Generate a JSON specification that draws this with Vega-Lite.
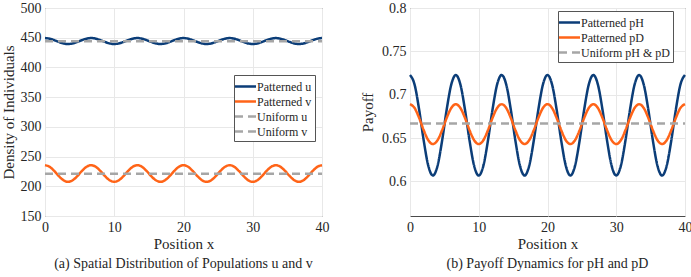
{
  "$schema": "https://vega.github.io/schema/vega-lite/v6.json",
  "padding": {"left": 0, "top": 0, "right": 2, "bottom": 0},
  "spacing": 30,
  "datasets": {
    "pattern": [
      {"x": 0, "Patterned u": 449.4, "Patterned v": 235.5, "Uniform u": 444.2, "Uniform v": 221.2, "Patterned pH": 0.7227, "Patterned pD": 0.689},
      {"x": 0.667, "Patterned u": 448.4, "Patterned v": 232.8, "Uniform u": 444.2, "Uniform v": 221.2, "Patterned pH": 0.7116, "Patterned pD": 0.6846},
      {"x": 1.333, "Patterned u": 445.9, "Patterned v": 225.8, "Uniform u": 444.2, "Uniform v": 221.2, "Patterned pH": 0.6826, "Patterned pD": 0.6731},
      {"x": 2, "Patterned u": 442.9, "Patterned v": 217.2, "Uniform u": 444.2, "Uniform v": 221.2, "Patterned pH": 0.6468, "Patterned pD": 0.6589},
      {"x": 2.667, "Patterned u": 440.4, "Patterned v": 210.2, "Uniform u": 444.2, "Uniform v": 221.2, "Patterned pH": 0.6178, "Patterned pD": 0.6474},
      {"x": 3.333, "Patterned u": 439.4, "Patterned v": 207.5, "Uniform u": 444.2, "Uniform v": 221.2, "Patterned pH": 0.6067, "Patterned pD": 0.643},
      {"x": 4, "Patterned u": 440.4, "Patterned v": 210.2, "Uniform u": 444.2, "Uniform v": 221.2, "Patterned pH": 0.6178, "Patterned pD": 0.6474},
      {"x": 4.667, "Patterned u": 442.9, "Patterned v": 217.2, "Uniform u": 444.2, "Uniform v": 221.2, "Patterned pH": 0.6468, "Patterned pD": 0.6589},
      {"x": 5.333, "Patterned u": 445.9, "Patterned v": 225.8, "Uniform u": 444.2, "Uniform v": 221.2, "Patterned pH": 0.6826, "Patterned pD": 0.6731},
      {"x": 6, "Patterned u": 448.4, "Patterned v": 232.8, "Uniform u": 444.2, "Uniform v": 221.2, "Patterned pH": 0.7116, "Patterned pD": 0.6846},
      {"x": 6.667, "Patterned u": 449.4, "Patterned v": 235.5, "Uniform u": 444.2, "Uniform v": 221.2, "Patterned pH": 0.7227, "Patterned pD": 0.689},
      {"x": 7.333, "Patterned u": 448.4, "Patterned v": 232.8, "Uniform u": 444.2, "Uniform v": 221.2, "Patterned pH": 0.7116, "Patterned pD": 0.6846},
      {"x": 8, "Patterned u": 445.9, "Patterned v": 225.8, "Uniform u": 444.2, "Uniform v": 221.2, "Patterned pH": 0.6826, "Patterned pD": 0.6731},
      {"x": 8.667, "Patterned u": 442.9, "Patterned v": 217.2, "Uniform u": 444.2, "Uniform v": 221.2, "Patterned pH": 0.6468, "Patterned pD": 0.6589},
      {"x": 9.333, "Patterned u": 440.4, "Patterned v": 210.2, "Uniform u": 444.2, "Uniform v": 221.2, "Patterned pH": 0.6178, "Patterned pD": 0.6474},
      {"x": 10, "Patterned u": 439.4, "Patterned v": 207.5, "Uniform u": 444.2, "Uniform v": 221.2, "Patterned pH": 0.6067, "Patterned pD": 0.643},
      {"x": 10.667, "Patterned u": 440.4, "Patterned v": 210.2, "Uniform u": 444.2, "Uniform v": 221.2, "Patterned pH": 0.6178, "Patterned pD": 0.6474},
      {"x": 11.333, "Patterned u": 442.9, "Patterned v": 217.2, "Uniform u": 444.2, "Uniform v": 221.2, "Patterned pH": 0.6468, "Patterned pD": 0.6589},
      {"x": 12, "Patterned u": 445.9, "Patterned v": 225.8, "Uniform u": 444.2, "Uniform v": 221.2, "Patterned pH": 0.6826, "Patterned pD": 0.6731},
      {"x": 12.667, "Patterned u": 448.4, "Patterned v": 232.8, "Uniform u": 444.2, "Uniform v": 221.2, "Patterned pH": 0.7116, "Patterned pD": 0.6846},
      {"x": 13.333, "Patterned u": 449.4, "Patterned v": 235.5, "Uniform u": 444.2, "Uniform v": 221.2, "Patterned pH": 0.7227, "Patterned pD": 0.689},
      {"x": 14, "Patterned u": 448.4, "Patterned v": 232.8, "Uniform u": 444.2, "Uniform v": 221.2, "Patterned pH": 0.7116, "Patterned pD": 0.6846},
      {"x": 14.667, "Patterned u": 445.9, "Patterned v": 225.8, "Uniform u": 444.2, "Uniform v": 221.2, "Patterned pH": 0.6826, "Patterned pD": 0.6731},
      {"x": 15.333, "Patterned u": 442.9, "Patterned v": 217.2, "Uniform u": 444.2, "Uniform v": 221.2, "Patterned pH": 0.6468, "Patterned pD": 0.6589},
      {"x": 16, "Patterned u": 440.4, "Patterned v": 210.2, "Uniform u": 444.2, "Uniform v": 221.2, "Patterned pH": 0.6178, "Patterned pD": 0.6474},
      {"x": 16.667, "Patterned u": 439.4, "Patterned v": 207.5, "Uniform u": 444.2, "Uniform v": 221.2, "Patterned pH": 0.6067, "Patterned pD": 0.643},
      {"x": 17.333, "Patterned u": 440.4, "Patterned v": 210.2, "Uniform u": 444.2, "Uniform v": 221.2, "Patterned pH": 0.6178, "Patterned pD": 0.6474},
      {"x": 18, "Patterned u": 442.9, "Patterned v": 217.2, "Uniform u": 444.2, "Uniform v": 221.2, "Patterned pH": 0.6468, "Patterned pD": 0.6589},
      {"x": 18.667, "Patterned u": 445.9, "Patterned v": 225.8, "Uniform u": 444.2, "Uniform v": 221.2, "Patterned pH": 0.6826, "Patterned pD": 0.6731},
      {"x": 19.333, "Patterned u": 448.4, "Patterned v": 232.8, "Uniform u": 444.2, "Uniform v": 221.2, "Patterned pH": 0.7116, "Patterned pD": 0.6846},
      {"x": 20, "Patterned u": 449.4, "Patterned v": 235.5, "Uniform u": 444.2, "Uniform v": 221.2, "Patterned pH": 0.7227, "Patterned pD": 0.689},
      {"x": 20.667, "Patterned u": 448.4, "Patterned v": 232.8, "Uniform u": 444.2, "Uniform v": 221.2, "Patterned pH": 0.7116, "Patterned pD": 0.6846},
      {"x": 21.333, "Patterned u": 445.9, "Patterned v": 225.8, "Uniform u": 444.2, "Uniform v": 221.2, "Patterned pH": 0.6826, "Patterned pD": 0.6731},
      {"x": 22, "Patterned u": 442.9, "Patterned v": 217.2, "Uniform u": 444.2, "Uniform v": 221.2, "Patterned pH": 0.6468, "Patterned pD": 0.6589},
      {"x": 22.667, "Patterned u": 440.4, "Patterned v": 210.2, "Uniform u": 444.2, "Uniform v": 221.2, "Patterned pH": 0.6178, "Patterned pD": 0.6474},
      {"x": 23.333, "Patterned u": 439.4, "Patterned v": 207.5, "Uniform u": 444.2, "Uniform v": 221.2, "Patterned pH": 0.6067, "Patterned pD": 0.643},
      {"x": 24, "Patterned u": 440.4, "Patterned v": 210.2, "Uniform u": 444.2, "Uniform v": 221.2, "Patterned pH": 0.6178, "Patterned pD": 0.6474},
      {"x": 24.667, "Patterned u": 442.9, "Patterned v": 217.2, "Uniform u": 444.2, "Uniform v": 221.2, "Patterned pH": 0.6468, "Patterned pD": 0.6589},
      {"x": 25.333, "Patterned u": 445.9, "Patterned v": 225.8, "Uniform u": 444.2, "Uniform v": 221.2, "Patterned pH": 0.6826, "Patterned pD": 0.6731},
      {"x": 26, "Patterned u": 448.4, "Patterned v": 232.8, "Uniform u": 444.2, "Uniform v": 221.2, "Patterned pH": 0.7116, "Patterned pD": 0.6846},
      {"x": 26.667, "Patterned u": 449.4, "Patterned v": 235.5, "Uniform u": 444.2, "Uniform v": 221.2, "Patterned pH": 0.7227, "Patterned pD": 0.689},
      {"x": 27.333, "Patterned u": 448.4, "Patterned v": 232.8, "Uniform u": 444.2, "Uniform v": 221.2, "Patterned pH": 0.7116, "Patterned pD": 0.6846},
      {"x": 28, "Patterned u": 445.9, "Patterned v": 225.8, "Uniform u": 444.2, "Uniform v": 221.2, "Patterned pH": 0.6826, "Patterned pD": 0.6731},
      {"x": 28.667, "Patterned u": 442.9, "Patterned v": 217.2, "Uniform u": 444.2, "Uniform v": 221.2, "Patterned pH": 0.6468, "Patterned pD": 0.6589},
      {"x": 29.333, "Patterned u": 440.4, "Patterned v": 210.2, "Uniform u": 444.2, "Uniform v": 221.2, "Patterned pH": 0.6178, "Patterned pD": 0.6474},
      {"x": 30, "Patterned u": 439.4, "Patterned v": 207.5, "Uniform u": 444.2, "Uniform v": 221.2, "Patterned pH": 0.6067, "Patterned pD": 0.643},
      {"x": 30.667, "Patterned u": 440.4, "Patterned v": 210.2, "Uniform u": 444.2, "Uniform v": 221.2, "Patterned pH": 0.6178, "Patterned pD": 0.6474},
      {"x": 31.333, "Patterned u": 442.9, "Patterned v": 217.2, "Uniform u": 444.2, "Uniform v": 221.2, "Patterned pH": 0.6468, "Patterned pD": 0.6589},
      {"x": 32, "Patterned u": 445.9, "Patterned v": 225.8, "Uniform u": 444.2, "Uniform v": 221.2, "Patterned pH": 0.6826, "Patterned pD": 0.6731},
      {"x": 32.667, "Patterned u": 448.4, "Patterned v": 232.8, "Uniform u": 444.2, "Uniform v": 221.2, "Patterned pH": 0.7116, "Patterned pD": 0.6846},
      {"x": 33.333, "Patterned u": 449.4, "Patterned v": 235.5, "Uniform u": 444.2, "Uniform v": 221.2, "Patterned pH": 0.7227, "Patterned pD": 0.689},
      {"x": 34, "Patterned u": 448.4, "Patterned v": 232.8, "Uniform u": 444.2, "Uniform v": 221.2, "Patterned pH": 0.7116, "Patterned pD": 0.6846},
      {"x": 34.667, "Patterned u": 445.9, "Patterned v": 225.8, "Uniform u": 444.2, "Uniform v": 221.2, "Patterned pH": 0.6826, "Patterned pD": 0.6731},
      {"x": 35.333, "Patterned u": 442.9, "Patterned v": 217.2, "Uniform u": 444.2, "Uniform v": 221.2, "Patterned pH": 0.6468, "Patterned pD": 0.6589},
      {"x": 36, "Patterned u": 440.4, "Patterned v": 210.2, "Uniform u": 444.2, "Uniform v": 221.2, "Patterned pH": 0.6178, "Patterned pD": 0.6474},
      {"x": 36.667, "Patterned u": 439.4, "Patterned v": 207.5, "Uniform u": 444.2, "Uniform v": 221.2, "Patterned pH": 0.6067, "Patterned pD": 0.643},
      {"x": 37.333, "Patterned u": 440.4, "Patterned v": 210.2, "Uniform u": 444.2, "Uniform v": 221.2, "Patterned pH": 0.6178, "Patterned pD": 0.6474},
      {"x": 38, "Patterned u": 442.9, "Patterned v": 217.2, "Uniform u": 444.2, "Uniform v": 221.2, "Patterned pH": 0.6468, "Patterned pD": 0.6589},
      {"x": 38.667, "Patterned u": 445.9, "Patterned v": 225.8, "Uniform u": 444.2, "Uniform v": 221.2, "Patterned pH": 0.6826, "Patterned pD": 0.6731},
      {"x": 39.333, "Patterned u": 448.4, "Patterned v": 232.8, "Uniform u": 444.2, "Uniform v": 221.2, "Patterned pH": 0.7116, "Patterned pD": 0.6846},
      {"x": 40, "Patterned u": 449.4, "Patterned v": 235.5, "Uniform u": 444.2, "Uniform v": 221.2, "Patterned pH": 0.7227, "Patterned pD": 0.689}
    ],
    "uniformRight": [
      {"x": 0, "series": "Uniform pH & pD", "y": 0.6667},
      {"x": 40, "series": "Uniform pH & pD", "y": 0.6667}
    ]
  },
  "config": {
    "font": "Liberation Serif",
    "view": {"stroke": "#4a4a4a", "strokeWidth": 1},
    "axis": {
      "labelFont": "Liberation Serif", "labelFontSize": 14, "labelColor": "#262626", "labelOverlap": false, "labelFlush": false,
      "titleFont": "Liberation Serif", "titleFontSize": 15, "titleFontWeight": "normal", "titleColor": "#262626",
      "gridColor": "#e8e8e8", "domain": false, "ticks": false, "labelPadding": 4
    },
    "legend": {
      "labelFont": "Liberation Serif", "labelFontSize": 12, "labelColor": "#262626",
      "symbolType": "M-1.5,0H1.5", "symbolStrokeWidth": 2.5, "symbolSize": 196,
      "strokeColor": "#555", "fillColor": "white", "padding": 3, "rowPadding": 0, "labelOffset": 3
    },
    "title": {"font": "Liberation Serif", "fontSize": 14, "fontWeight": "normal", "color": "#262626"}
  },
  "hconcat": [
    {
      "width": 277, "height": 208,
      "title": {"text": "(a) Spatial Distribution of Populations u and v", "orient": "bottom", "offset": 6},
      "data": {"name": "pattern"},
      "transform": [{"fold": ["Patterned u", "Patterned v", "Uniform u", "Uniform v"], "as": ["series", "y"]}],
      "mark": {"type": "line", "strokeWidth": 2.5, "interpolate": "monotone"},
      "encoding": {
        "x": {"field": "x", "type": "quantitative", "scale": {"domain": [0, 40]}, "axis": {"tickCount": 4, "title": "Position x", "titlePadding": 2}},
        "y": {"field": "y", "type": "quantitative", "scale": {"domain": [150, 500]}, "axis": {"tickCount": 7, "title": "Density of Individuals", "titlePadding": 4}},
        "color": {"field": "series", "type": "nominal", "scale": {"domain": ["Patterned u", "Patterned v", "Uniform u", "Uniform v"], "range": ["#0b3d78", "#ff6418", "#a6a6a6", "#a6a6a6"]}, "legend": {"title": null, "orient": "none", "legendX": 189, "legendY": 67}},
        "strokeDash": {"field": "series", "type": "nominal", "scale": {"domain": ["Patterned u", "Patterned v", "Uniform u", "Uniform v"], "range": [[1, 0], [1, 0], [8, 5], [8, 5]]}, "legend": {"title": null, "orient": "none", "legendX": 189, "legendY": 67}}
      }
    },
    {
      "width": 275, "height": 208,
      "title": {"text": "(b) Payoff Dynamics for pH and pD", "orient": "bottom", "offset": 6},
      "layer": [
        {
          "data": {"name": "pattern"},
          "transform": [{"fold": ["Patterned pH", "Patterned pD"], "as": ["series", "y"]}],
          "mark": {"type": "line", "strokeWidth": 2.5, "interpolate": "monotone"},
          "encoding": {
            "x": {"field": "x", "type": "quantitative", "scale": {"domain": [0, 40]}, "axis": {"values": [0, 10, 20, 30, 40], "title": "Position x", "titlePadding": 2}},
            "y": {"field": "y", "type": "quantitative", "scale": {"domain": [0.58, 0.8], "zero": false}, "axis": {"values": [0.6, 0.65, 0.7, 0.75, 0.8], "labelExpr": "replace(format(datum.value, '.2f'), /0$/, '')", "title": "Payoff", "titlePadding": 6}},
            "color": {"field": "series", "type": "nominal", "scale": {"domain": ["Patterned pH", "Patterned pD", "Uniform pH & pD"], "range": ["#0b3d78", "#ff6418", "#a6a6a6"]}, "legend": {"title": null, "orient": "none", "legendX": 148, "legendY": 3}},
            "strokeDash": {"field": "series", "type": "nominal", "scale": {"domain": ["Patterned pH", "Patterned pD", "Uniform pH & pD"], "range": [[1, 0], [1, 0], [8, 5]]}, "legend": {"title": null, "orient": "none", "legendX": 148, "legendY": 3}}
          }
        },
        {
          "data": {"name": "uniformRight"},
          "mark": {"type": "line", "strokeWidth": 2.5},
          "encoding": {
            "x": {"field": "x", "type": "quantitative"},
            "y": {"field": "y", "type": "quantitative"},
            "color": {"field": "series", "type": "nominal"},
            "strokeDash": {"field": "series", "type": "nominal"}
          }
        }
      ]
    }
  ],
  "resolve": {"scale": {"color": "independent", "strokeDash": "independent", "y": "independent"}, "legend": {"color": "independent", "strokeDash": "independent"}}
}
